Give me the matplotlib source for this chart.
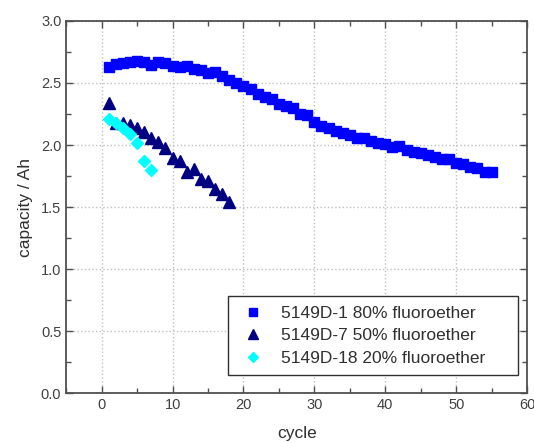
import matplotlib
matplotlib.use("Agg")
import matplotlib.pyplot as plt
from matplotlib.ticker import MultipleLocator
from matplotlib.patches import Rectangle

plt.rcParams['font.family'] = ['Liberation Sans', 'DejaVu Sans']

# 5149D-1 80% fluoroether
cycles_1 = list(range(1, 56))
cap_1 = [2.63, 2.65, 2.66, 2.665, 2.68, 2.665, 2.646, 2.665, 2.66, 2.64,
         2.625, 2.64, 2.613, 2.60, 2.58, 2.59, 2.555, 2.52, 2.496, 2.474,
         2.45, 2.407, 2.388, 2.367, 2.327, 2.313, 2.30, 2.249, 2.24, 2.187,
         2.152, 2.14, 2.112, 2.093, 2.08, 2.06, 2.053, 2.034, 2.018, 2.007,
         1.986, 1.99, 1.959, 1.945, 1.932, 1.918, 1.905, 1.884, 1.886, 1.857,
         1.846, 1.82, 1.811, 1.784, 1.779]

# 5149D-7 50% fluoroether
cycles_7 = list(range(1, 19))
cap_7 = [2.34, 2.174, 2.18, 2.16, 2.134, 2.106, 2.053, 2.026, 1.973, 1.892,
         1.87, 1.784, 1.803, 1.723, 1.712, 1.642, 1.605, 1.543]

# 5149D-18 20% fluoroether
cycles_18 = list(range(1, 8))
cap_18 = [2.206, 2.18, 2.134, 2.085, 2.02, 1.873, 1.795]

labels = ["5149D-1 80% fluoroether", "5149D-7 50% fluoroether",
          "5149D-18 20% fluoroether"]

fig = plt.figure(figsize=(5.34, 4.43), dpi=100)
ax = fig.add_axes([0.124, 0.112, 0.863, 0.841])

ax.plot(cycles_1, cap_1, 's', color='#0000ff', ms=7.2, mec='#0000ff', label=labels[0])
ax.plot(cycles_7, cap_7, '^', color='#000080', ms=8, mec='#000080', label=labels[1])
ax.plot(cycles_18, cap_18, 'D', color='#00ffff', ms=6.5, mec='#00ffff', label=labels[2])

ax.set_xlim(-5, 60)
ax.set_ylim(0, 3.0)
ax.xaxis.set_major_locator(MultipleLocator(10))
ax.xaxis.set_minor_locator(MultipleLocator(5))
ax.yaxis.set_major_locator(MultipleLocator(0.5))
ax.yaxis.set_minor_locator(MultipleLocator(0.25))
ax.yaxis.set_major_formatter(matplotlib.ticker.FormatStrFormatter('%.1f'))

ax.grid(True, which='major', linestyle=':', color='#c0c0c0', linewidth=1)
ax.set_axisbelow(True)

ax.tick_params(which='both', direction='in', top=True, right=True,
               colors='#505050', labelcolor='#404040', labelsize=10.5)
ax.tick_params(which='major', length=5, width=1)
ax.tick_params(which='minor', length=3.5, width=1)
for s in ax.spines.values():
    s.set_color('#505050')
    s.set_linewidth(1.3)

ax.set_xlabel("cycle", fontsize=12.5, color='#303030', labelpad=10)
ax.set_ylabel("capacity / Ah", fontsize=12.5, color='#303030', labelpad=6)

# legend frame drawn separately (wider side padding than matplotlib's borderpad)
ax.add_patch(Rectangle((0.351, 0.049), 0.629, 0.212, transform=ax.transAxes,
                       facecolor='white', edgecolor='#303030', linewidth=1.0,
                       zorder=4))
leg = ax.legend(loc='upper left', bbox_to_anchor=(0.375, 0.235), borderaxespad=0,
                fontsize=12.5, frameon=False, borderpad=0,
                handlelength=1.6, handletextpad=0.8, labelspacing=0.42,
                markerscale=0.85)
leg.set_zorder(5)
for t in leg.get_texts():
    t.set_color('#303030')

fig.savefig("out.png", dpi=100)
